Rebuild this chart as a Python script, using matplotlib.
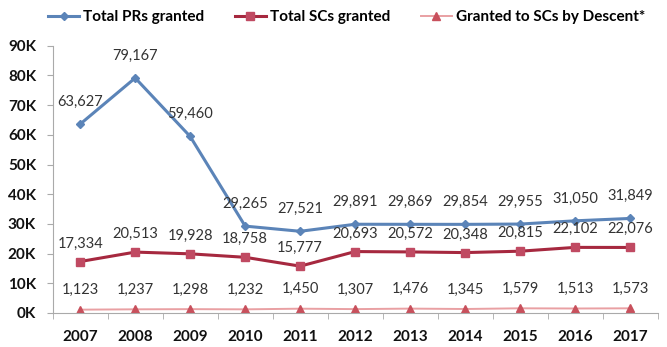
import matplotlib.pyplot as plt
from matplotlib.ticker import FuncFormatter, FixedLocator

plt.rcParams["font.family"] = ["Lato", "DejaVu Sans"]

years = ["2007", "2008", "2009", "2010", "2011", "2012", "2013", "2014", "2015", "2016", "2017"]
total_prs = [63627, 79167, 59460, 29265, 27521, 29891, 29869, 29854, 29955, 31050, 31849]
total_scs = [17334, 20513, 19928, 18758, 15777, 20693, 20572, 20348, 20815, 22102, 22076]
scs_descent = [1123, 1237, 1298, 1232, 1450, 1307, 1476, 1345, 1579, 1513, 1573]

fig = plt.figure(figsize=(6.67, 3.47), dpi=100)
ax = fig.add_axes([0.079, 0.098, 0.907, 0.77])

x = list(range(len(years)))
series = [
    (total_prs, "Total PRs granted", "#5B84B8", "#5B84B8", "D", 4, 2.2, 11),
    (total_scs, "Total SCs granted", "#A6283F", "#C04A62", "s", 6, 2.2, 8),
    (scs_descent, "Granted to SCs by Descent*", "#E9A0A3", "#C8505C", "^", 6, 1.4, 9),
]
for vals, label, lc, mc, mk, ms, lw, off in series:
    ax.plot(x, vals, color=lc, marker=mk, markersize=ms, markerfacecolor=mc,
            markeredgecolor=mc, linewidth=lw, label=label)
    for xi, v in zip(x, vals):
        ax.annotate(f"{v:,}", (xi, v), xytext=(0, off), textcoords="offset points",
                    ha="center", va="bottom", fontsize=10.5, color="#333333")

ax.set_xlim(-0.5, len(years) - 0.5)
ax.set_ylim(0, 90000)
ax.set_yticks(range(0, 90001, 10000))
ax.yaxis.set_major_formatter(FuncFormatter(lambda v, p: f"{int(v / 1000)}K"))
ax.set_xticks(x)
ax.set_xticklabels(years)
ax.xaxis.set_minor_locator(FixedLocator([i + 0.5 for i in range(-1, len(years))]))
ax.tick_params(axis="x", which="major", length=0, pad=12)
ax.tick_params(axis="x", which="minor", length=4, color="#AAAAAA", direction="out")
ax.tick_params(axis="y", length=4, color="#AAAAAA", pad=8)
for lab in ax.get_xticklabels() + ax.get_yticklabels():
    lab.set_fontweight("bold")
    lab.set_fontsize(11)
    lab.set_color("#111111")

for side in ["top", "right"]:
    ax.spines[side].set_visible(False)
for side in ["left", "bottom"]:
    ax.spines[side].set_color("#AAAAAA")

fig.legend(loc="upper center", bbox_to_anchor=(0.52, 1.01), ncol=3, frameon=False,
           prop={"weight": "bold", "size": 11}, handlelength=2.0, columnspacing=2.0,
           handletextpad=0.3)

fig.savefig("out.png", dpi=100)
